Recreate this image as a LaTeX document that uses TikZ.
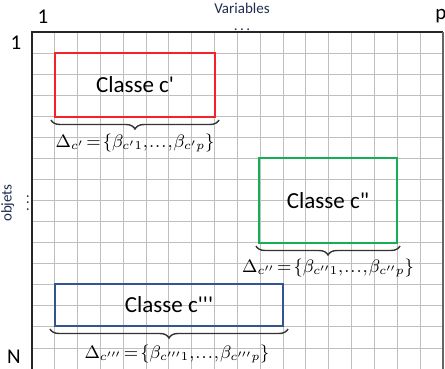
\documentclass[tikz,border=0pt]{standalone}
\usepackage{fontspec}
\usepackage{amsmath}
\usetikzlibrary{decorations.pathreplacing}
\newfontfamily\calib{Carlito}
\definecolor{classred}{RGB}{245,35,40}
\definecolor{classgreen}{RGB}{20,175,85}
\definecolor{classblue}{RGB}{50,85,145}
\definecolor{labelblue}{RGB}{30,45,80}
\newcommand\tightmu{\thickmuskip=2mu\relax\medmuskip=1mu\relax\thinmuskip=1mu\relax}

\begin{document}
\begin{tikzpicture}[x=0.5pt,y=-0.5pt,
  gridline/.style={black!25,line width=0.5pt},
  classbox/.style={draw,line width=1pt,inner sep=0pt,font=\calib\fontsize{11.5}{14}\selectfont},
  brace/.style={decorate,decoration={brace,mirror,amplitude=4.5pt},line width=0.7pt,black!80},
  deltalabel/.style={font=\fontsize{9}{11}\selectfont},
  axislabel/.style={font=\calib\fontsize{10.5}{12}\selectfont},
  smalllabel/.style={font=\calib\fontsize{7.5}{8.5}\selectfont,text=labelblue,inner sep=0pt,align=center}]
  \useasboundingbox (0,0) rectangle (445,369);
  \fill[white] (0,0) rectangle (445,369);
  % grid
  \foreach \i in {1,...,17}
    \draw[gridline] (32+\i*22.83,32) -- (32+\i*22.83,369);
  \foreach \j in {1,...,16}
    \draw[gridline] (32,32+\j*21.07) -- (443,32+\j*21.07);
  \draw[black!85,line width=0.8pt] (32,369) -- (32,32) -- (443,32);
  \draw[black!60,line width=0.8pt] (443,32) -- (443,369);
  % axis labels
  \node[axislabel] (c1) at (43,17)  {1};
  \node[axislabel] (cp) at (441,16) {p};
  \node[axislabel] (r1) at (16,43)  {1};
  \node[axislabel] (rN) at (14,357) {N};
  \node[smalllabel] (var) at (242,17) {Variables\\.\,.\,.};
  \node[smalllabel,rotate=90] (obj) at (15,203) {objets\\.\,.\,.};
  % classes
  \node[classbox,draw=classred,minimum width=80pt,minimum height=32pt] (A) at (135,85) {Classe c'};
  \node[classbox,draw=classgreen,minimum width=69pt,minimum height=42.5pt] (B) at (328,200.5) {Classe c"};
  \node[classbox,draw=classblue,minimum width=114pt,minimum height=21pt] (C) at (169,305) {Classe c'''};
  % braces
  \draw[brace] ([xshift=-1.5pt,yshift=-1pt]A.south west) -- ([xshift=1.5pt,yshift=-1pt]A.south east);
  \draw[brace] ([xshift=-1pt,yshift=-1pt]B.south west) -- ([xshift=1pt,yshift=-1pt]B.south east);
  \draw[brace] ([xshift=-2pt,yshift=-1pt]C.south west) -- ([xshift=2pt,yshift=-1pt]C.south east);
  \node[deltalabel] (dA) at (135,143) {$\tightmu\Delta_{c'}=\{\beta_{c'1},\ldots,\beta_{c'p}\}$};
  \node[deltalabel] (dB) at (328,268) {$\tightmu\Delta_{c''}=\{\beta_{c''1},\ldots,\beta_{c''p}\}$};
  \node[deltalabel] (dC) at (177,354) {$\tightmu\Delta_{c'''}=\{\beta_{c'''1},\ldots,\beta_{c'''p}\}$};
\end{tikzpicture}
\end{document}
